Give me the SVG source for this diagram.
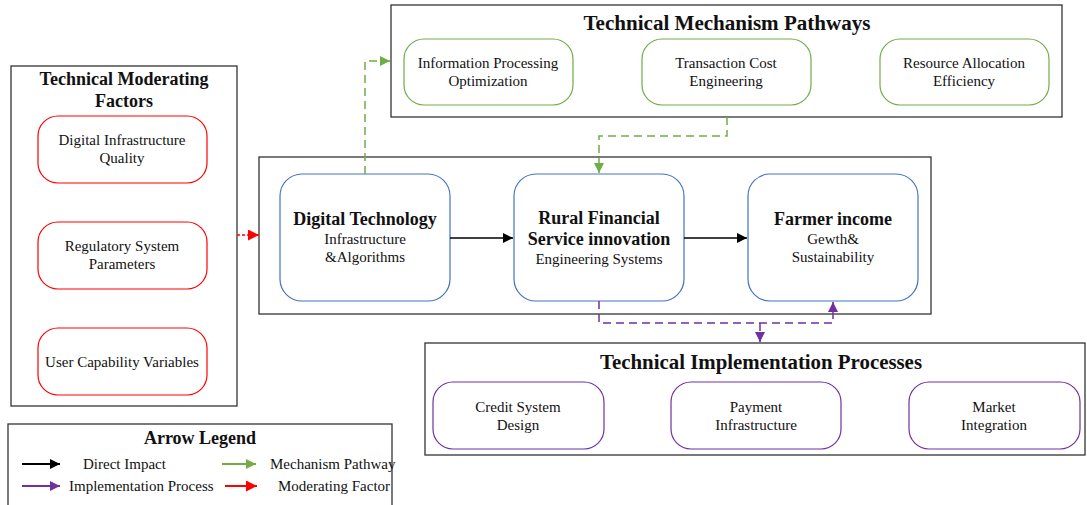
<svg xmlns="http://www.w3.org/2000/svg" width="1087" height="505" viewBox="0 0 1087 505">
  <style>
    text { font-family: "Liberation Serif", "Times New Roman", serif; fill: #111; text-anchor: middle; }
    .t { font-size: 15px; }
    .h { font-size: 18px; font-weight: bold; }
    .title { font-size: 20px; font-weight: bold; }
    .frame { fill: #fff; stroke: #333; stroke-width: 1.3; }
    .blue { fill: #fff; stroke: #4472C4; stroke-width: 1.2; }
    .green { fill: #fff; stroke: #70AD47; stroke-width: 1.2; }
    .red { fill: #fff; stroke: #FF0000; stroke-width: 1.2; }
    .purple { fill: #fff; stroke: #7030A0; stroke-width: 1.2; }
    .lg { text-anchor: start; font-size: 15px; }
  </style>
  <defs>
    <marker id="ah-black" viewBox="0 0 10 10" refX="10" refY="5" markerWidth="10" markerHeight="10" markerUnits="userSpaceOnUse" orient="auto"><path d="M0,0 L10,5 L0,10 z" fill="#000"/></marker>
    <marker id="ah-green" viewBox="0 0 10 10" refX="10" refY="5" markerWidth="10" markerHeight="10" markerUnits="userSpaceOnUse" orient="auto"><path d="M0,0 L10,5 L0,10 z" fill="#70AD47"/></marker>
    <marker id="ah-red" viewBox="0 0 10 10" refX="10" refY="5" markerWidth="11" markerHeight="11" markerUnits="userSpaceOnUse" orient="auto"><path d="M0,0 L10,5 L0,10 z" fill="#FF0000"/></marker>
    <marker id="ah-purple" viewBox="0 0 10 10" refX="10" refY="5" markerWidth="10" markerHeight="10" markerUnits="userSpaceOnUse" orient="auto"><path d="M0,0 L10,5 L0,10 z" fill="#7030A0"/></marker>
  </defs>

  <rect width="1087" height="505" fill="#fff"/>

  <!-- Moderating factors panel -->
  <g id="moderating-factors">
    <rect class="frame" x="11" y="66" width="226" height="340"/>
    <text class="h" x="124" y="85" font-size="19">Technical Moderating</text>
    <text class="h" x="124" y="107" font-size="19">Factors</text>
    <g id="mod-infrastructure">
      <rect class="red" x="38" y="116" width="169" height="67" rx="20"/>
      <text class="t" x="122" y="145">Digital Infrastructure</text>
      <text class="t" x="122" y="163">Quality</text>
    </g>
    <g id="mod-regulatory">
      <rect class="red" x="38" y="222" width="169" height="67" rx="20"/>
      <text class="t" x="122" y="251">Regulatory System</text>
      <text class="t" x="122" y="269">Parameters</text>
    </g>
    <g id="mod-user">
      <rect class="red" x="38" y="328" width="169" height="67" rx="20"/>
      <text class="t" x="122" y="367">User Capability Variables</text>
    </g>
  </g>

  <!-- Mechanism pathways panel -->
  <g id="mechanism-pathways">
    <rect class="frame" x="391" y="5" width="671" height="112"/>
    <text class="title" x="727" y="30" textLength="287" lengthAdjust="spacingAndGlyphs">Technical Mechanism Pathways</text>
    <g id="mech-info">
      <rect class="green" x="404" y="39" width="169" height="66" rx="20"/>
      <text class="t" x="488" y="68">Information Processing</text>
      <text class="t" x="488" y="86">Optimization</text>
    </g>
    <g id="mech-cost">
      <rect class="green" x="642" y="39" width="169" height="66" rx="20"/>
      <text class="t" x="726" y="68">Transaction Cost</text>
      <text class="t" x="726" y="86">Engineering</text>
    </g>
    <g id="mech-resource">
      <rect class="green" x="880" y="39" width="169" height="66" rx="20"/>
      <text class="t" x="964" y="68">Resource Allocation</text>
      <text class="t" x="964" y="86">Efficiency</text>
    </g>
  </g>

  <!-- Core chain panel -->
  <g id="core-chain">
    <rect class="frame" x="259" y="157" width="672" height="157"/>
    <g id="digital-technology">
      <rect class="blue" x="280" y="174" width="170" height="127" rx="22"/>
      <text class="h" x="365" y="225">Digital Technology</text>
      <text class="t" x="365" y="244">Infrastructure</text>
      <text class="t" x="365" y="262">&amp;Algorithms</text>
    </g>
    <g id="rural-finance">
      <rect class="blue" x="514" y="174" width="170" height="127" rx="22"/>
      <text class="h" x="599" y="224">Rural Financial</text>
      <text class="h" x="599" y="245">Service innovation</text>
      <text class="t" x="599" y="264">Engineering Systems</text>
    </g>
    <g id="farmer-income">
      <rect class="blue" x="748" y="174" width="170" height="127" rx="22"/>
      <text class="h" x="833" y="225">Farmer income</text>
      <text class="t" x="833" y="244">Gewth&amp;</text>
      <text class="t" x="833" y="262">Sustainability</text>
    </g>
  </g>

  <!-- Implementation processes panel -->
  <g id="implementation-processes">
    <rect class="frame" x="425" y="343" width="660" height="112"/>
    <text class="title" x="761" y="369" textLength="322" lengthAdjust="spacingAndGlyphs">Technical Implementation Processes</text>
    <g id="impl-credit">
      <rect class="purple" x="433" y="382" width="171" height="67" rx="20"/>
      <text class="t" x="518" y="412">Credit System</text>
      <text class="t" x="518" y="430">Design</text>
    </g>
    <g id="impl-payment">
      <rect class="purple" x="671" y="382" width="170" height="67" rx="20"/>
      <text class="t" x="756" y="412">Payment</text>
      <text class="t" x="756" y="430">Infrastructure</text>
    </g>
    <g id="impl-market">
      <rect class="purple" x="909" y="382" width="171" height="67" rx="20"/>
      <text class="t" x="994" y="412">Market</text>
      <text class="t" x="994" y="430">Integration</text>
    </g>
  </g>

  <!-- Connectors -->
  <g id="connectors" fill="none">
    <path d="M450,238 H513" stroke="#000" stroke-width="1.5" marker-end="url(#ah-black)"/>
    <path d="M684,238 H747" stroke="#000" stroke-width="1.5" marker-end="url(#ah-black)"/>
    <path d="M237,235 H259" stroke="#FF0000" stroke-width="1.3" stroke-dasharray="3,2" marker-end="url(#ah-red)"/>
    <path d="M365,174 V61 H390" stroke="#70AD47" stroke-width="1.5" stroke-dasharray="8,5" marker-end="url(#ah-green)"/>
    <path d="M727,117 V136 H599 V173" stroke="#70AD47" stroke-width="1.5" stroke-dasharray="8,5" marker-end="url(#ah-green)"/>
    <path d="M599,301 V323 H833 V302" stroke="#7030A0" stroke-width="1.5" stroke-dasharray="8,5" marker-end="url(#ah-purple)"/>
    <path d="M760,323 V342" stroke="#7030A0" stroke-width="1.5" stroke-dasharray="8,5" marker-end="url(#ah-purple)"/>
  </g>

  <!-- Legend -->
  <g id="legend">
    <rect class="frame" x="8" y="424" width="384" height="90"/>
    <text class="h" x="200" y="444">Arrow Legend</text>
    <path d="M22,464 H60" stroke="#000" stroke-width="2" marker-end="url(#ah-black)"/>
    <text class="lg" x="83" y="469">Direct Impact</text>
    <path d="M222,464 H256" stroke="#70AD47" stroke-width="2" marker-end="url(#ah-green)"/>
    <text class="lg" x="270" y="469">Mechanism Pathway</text>
    <path d="M22,486 H60" stroke="#7030A0" stroke-width="2" marker-end="url(#ah-purple)"/>
    <text class="lg" x="69" y="491">Implementation Process</text>
    <path d="M225,486 H257" stroke="#FF0000" stroke-width="2" marker-end="url(#ah-red)"/>
    <text class="lg" x="278" y="491">Moderating Factor</text>
  </g>
</svg>
